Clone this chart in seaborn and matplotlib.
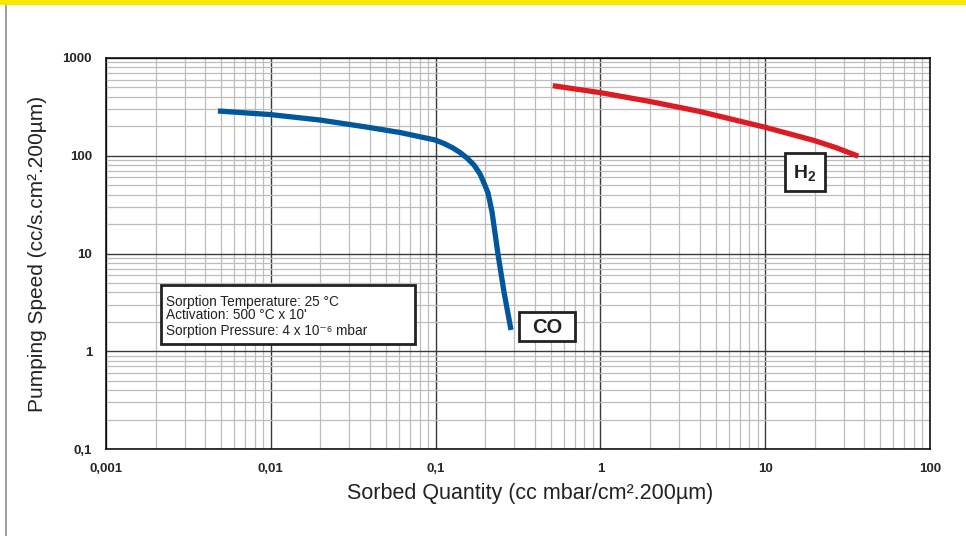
import numpy as np
import pandas as pd
import seaborn as sns
import matplotlib.pyplot as plt
from matplotlib.patches import Rectangle
from matplotlib.ticker import LogLocator, NullFormatter

# values
co_x = [0.00478, 0.00989, 0.0199, 0.0378, 0.0608, 0.0992, 0.1125, 0.1275, 0.1406, 0.155,
        0.171, 0.186, 0.1966, 0.208, 0.220, 0.239, 0.260, 0.2868]
co_y = [287, 264, 232, 197, 173, 145, 133.5, 120, 108, 94.8,
        80.4, 65.1, 52.6, 41.6, 26.6, 9.88, 4.04, 1.65]
h2_x = [0.514, 1.0, 2.0, 4.0, 10.0, 19.6, 26.9, 36.7]
h2_y = [521, 442, 359, 284, 195.5, 144, 121, 99]

x_ticks = [0.001, 0.01, 0.1, 1, 10, 100]
x_tick_labels = ["0,001", "0,01", "0,1", "1", "10", "100"]
y_ticks = [0.1, 1, 10, 100, 1000]
y_tick_labels = ["0,1", "1", "10", "100", "1000"]

info_lines = ["Sorption Temperature: 25 °C",
              "Activation: 500 °C x 10'",
              "Sorption Pressure: 4 x 10⁻⁶ mbar"]

df_co = pd.DataFrame({"x": co_x, "y": co_y})
df_h2 = pd.DataFrame({"x": h2_x, "y": h2_y})

sns.set_style("white")
plt.rcParams['font.family'] = ['Liberation Sans', 'DejaVu Sans']
plt.rcParams['mathtext.default'] = 'regular'

fig = plt.figure(figsize=(9.66, 5.36), dpi=100)
ax = fig.add_axes([106/966, 1-449/536, 824/966, 391/536])

sns.lineplot(data=df_co, x="x", y="y", ax=ax, color="#00579b", lw=3.8, sort=False,
             solid_capstyle="butt", solid_joinstyle="round")
sns.lineplot(data=df_h2, x="x", y="y", ax=ax, color="#dc1c24", lw=3.8, sort=False,
             solid_capstyle="butt", solid_joinstyle="round")

ax.set_xscale("log")
ax.set_yscale("log")
ax.set_xlim(0.001, 100)
ax.set_ylim(0.1, 1000)

##===================GRID===================##
ax.xaxis.set_minor_locator(LogLocator(base=10, subs=np.arange(2, 10)))
ax.yaxis.set_minor_locator(LogLocator(base=10, subs=np.arange(2, 10)))
ax.xaxis.set_minor_formatter(NullFormatter())
ax.yaxis.set_minor_formatter(NullFormatter())
ax.grid(which="minor", color="#bdbdbd", lw=0.9)
ax.grid(which="major", color="#3a3a3a", lw=1.0)
ax.set_axisbelow(True)

ax.set_xticks(x_ticks, x_tick_labels, fontsize=9.5, fontweight="bold")
ax.set_yticks(y_ticks, y_tick_labels, fontsize=9.5, fontweight="bold")
ax.tick_params(which="major", direction="out", length=4, width=1, color="black", pad=6)
ax.tick_params(which="minor", length=0)
for s in ax.spines.values():
    s.set_color("black")
    s.set_linewidth(1.1)

ax.set_xlabel("Sorbed Quantity (cc mbar/cm².200µm)", fontsize=15.5, color="#222222")
ax.set_ylabel("Pumping Speed (cc/s.cm².200µm)", fontsize=15, color="#222222")
ax.xaxis.set_label_coords(0.5146, -0.086)
ax.yaxis.set_label_coords(-0.072, 0.5)

##===================LABELS===================##
ax.add_patch(Rectangle((0.0664, 0.2685), 0.3086, 0.151, transform=ax.transAxes,
                       fc="white", ec="#222222", lw=2, zorder=5))
for yy, line in zip([0.3767, 0.3427, 0.3018], info_lines):
    ax.text(0.0728, yy, line, transform=ax.transAxes, ha="left", va="center",
            fontsize=9.8, color="#222222", zorder=6)

ax.add_patch(Rectangle((0.501, 0.277), 0.068, 0.074, transform=ax.transAxes,
                       fc="white", ec="#222222", lw=2, zorder=5))
ax.text(0.5352, 0.3110, "CO", transform=ax.transAxes, ha="center", va="center",
        fontsize=14.5, fontweight="bold", color="#222222", zorder=6)

ax.add_patch(Rectangle((0.824, 0.66), 0.049, 0.097, transform=ax.transAxes,
                       fc="white", ec="#222222", lw=2, zorder=5))
ax.text(0.8483, 0.706, "H$_{\\mathregular{2}}$", transform=ax.transAxes, ha="center", va="center",
        fontsize=14, fontweight="bold", color="#222222", zorder=6)

##===================FRAME===================##
fig.patches.append(Rectangle((0, 1-5/536), 1, 5/536, transform=fig.transFigure,
                             fc="#f6ea00", ec="none"))
fig.patches.append(Rectangle((5/966, 0), 1.5/966, 1-5/536, transform=fig.transFigure,
                             fc="#a0a0a0", ec="none"))

fig.savefig("out.png", dpi=100)
